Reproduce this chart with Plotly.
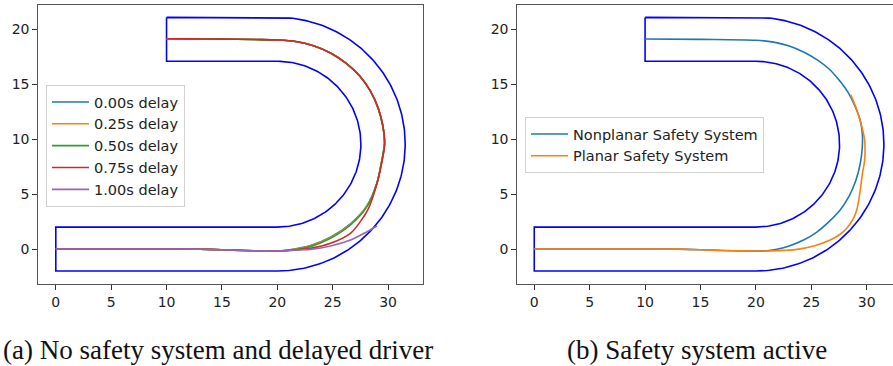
import numpy as np
import plotly.graph_objects as go

# ---------------- track geometry (parameters) ----------------
ARC_CX, ARC_CY = 20.0, 9.55
R_INNER, R_OUTER = 7.55, 11.55
BOTTOM_X0 = 0.0
TOP_X0 = 10.0

# ---------------- panel (a): delayed driver ----------------
delay_labels = ["0.00s delay", "0.25s delay", "0.50s delay", "0.75s delay", "1.00s delay"]

straight_x = [0, 5, 10, 13, 15, 17, 19, 20]
straight_y = [0, 0, 0, -0.01, -0.06, -0.13, -0.17, -0.18]

upper_x = [29.68, 29.53, 29.10, 28.40, 27.43, 26.20, 24.80, 23.27, 21.65, 20.0, 18.0, 15.0, 12.0, 10.0]
upper_y = [9.6, 11.23, 12.86, 14.40, 15.78, 16.94, 17.86, 18.52, 18.91, 19.04, 19.08, 19.12, 19.14, 19.15]

d000_x = straight_x + [21, 22, 23, 24.8, 26.6, 28.1, 29.0, 29.45] + upper_x
d000_y = straight_y + [-0.08, 0.10, 0.32, 1.08, 2.30, 3.95, 6.05, 8.13] + upper_y

d025_x = straight_x + [21, 22, 23, 24.8, 26.6, 28.1, 29.0, 29.45] + upper_x
d025_y = straight_y + [-0.10, 0.06, 0.28, 1.03, 2.25, 3.92, 6.02, 8.13] + upper_y

d050_x = straight_x + [21, 22, 23, 24.8, 26.6, 28.1, 29.0, 29.45] + upper_x
d050_y = straight_y + [-0.12, 0.02, 0.22, 0.97, 2.19, 3.87, 6.0, 8.13] + upper_y

d075_x = straight_x + [21, 22, 23, 24.8, 26.6, 27.5, 28.24, 28.84, 29.3, 29.7] + upper_x[1:]
d075_y = straight_y + [-0.13, -0.05, 0.06, 0.52, 1.43, 2.5, 3.71, 5.39, 7.2, 9.6] + upper_y[1:]

d100_x = straight_x + [21.2, 22, 23, 24.8, 26.6, 28.1, 29.0]
d100_y = straight_y + [-0.12, -0.08, -0.03, 0.27, 0.82, 1.58, 2.1]

# ---------------- panel (b): safety system ----------------
safety_labels = ["Nonplanar Safety System", "Planar Safety System"]

nonplanar_x = straight_x + [21.0, 22.0, 23.0, 24.3, 25.5, 26.6, 27.6, 28.4, 29.0, 29.4, 29.6,
                            29.6, 29.4, 28.9, 28.3, 27.5, 26.6, 25.5, 24.3, 23.0, 21.6,
                            20.0, 15.0, 10.0]
nonplanar_y = straight_y + [-0.15, 0.0, 0.28, 0.82, 1.55, 2.5, 3.56, 4.8, 6.2, 7.7, 9.3,
                            10.5, 11.78, 13.1, 14.3, 15.4, 16.4, 17.25, 17.95, 18.5, 18.85,
                            19.02, 19.1, 19.13]

planar_x = straight_x + [21.5, 22.5, 23.7, 25.3, 26.7, 27.6, 28.2, 28.8, 29.1, 29.3, 29.45,
                         29.6, 29.8, 29.85, 29.8, 29.55, 29.1, 28.55]
planar_y = straight_y + [-0.17, -0.12, -0.03, 0.3, 0.82, 1.35, 1.89, 2.8, 3.56, 4.6, 5.6,
                         6.8, 8.0, 9.04, 10.0, 11.17, 12.69, 14.06]

colors = ["#1f77b4", "#ff7f0e", "#2ca02c", "#d62728", "#9467bd"]
TRACK_COLOR = "#0000ff"

# ---------------- track outline ----------------
th_out = np.linspace(np.pi / 2, -np.pi / 2, 181)
th_in = np.linspace(-np.pi / 2, np.pi / 2, 181)
top_out = ARC_CY + R_OUTER
bot_out = ARC_CY - R_OUTER
bot_in = ARC_CY - R_INNER
top_in = ARC_CY + R_INNER
track_x = np.concatenate([
    [TOP_X0], ARC_CX + R_OUTER * np.cos(th_out), [BOTTOM_X0, BOTTOM_X0],
    ARC_CX + R_INNER * np.cos(th_in), [TOP_X0, TOP_X0]])
track_y = np.concatenate([
    [top_out], ARC_CY + R_OUTER * np.sin(th_out), [bot_out, bot_in],
    ARC_CY + R_INNER * np.sin(th_in), [top_in, top_out]])

fig = go.Figure()

for xa, ya in [("x", "y"), ("x2", "y2")]:
    fig.add_trace(go.Scatter(x=track_x, y=track_y, mode="lines", xaxis=xa, yaxis=ya,
                             line=dict(color=TRACK_COLOR, width=1.6), showlegend=False,
                             hoverinfo="skip"))

a_series = [(d000_x, d000_y), (d025_x, d025_y), (d050_x, d050_y), (d075_x, d075_y), (d100_x, d100_y)]
for i, (sx, sy) in enumerate(a_series):
    fig.add_trace(go.Scatter(x=sx, y=sy, mode="lines", name=delay_labels[i],
                             xaxis="x", yaxis="y", legend="legend",
                             line=dict(color=colors[i], width=1.6, shape="spline", smoothing=0.9)))

b_series = [(nonplanar_x, nonplanar_y), (planar_x, planar_y)]
for i, (sx, sy) in enumerate(b_series):
    fig.add_trace(go.Scatter(x=sx, y=sy, mode="lines", name=safety_labels[i],
                             xaxis="x2", yaxis="y2", legend="legend2",
                             line=dict(color=colors[i], width=1.6, shape="spline", smoothing=0.9)))

tickfont = dict(family="DejaVu Sans", size=14, color="#222")
common_x = dict(tickmode="array", tickvals=[0, 5, 10, 15, 20, 25, 30], ticks="outside",
                ticklen=5, tickwidth=1, tickcolor="#333", showgrid=False, zeroline=False,
                showline=True, linecolor="#555", linewidth=1, tickfont=tickfont)
common_y = dict(tickmode="array", tickvals=[0, 5, 10, 15, 20], ticks="outside",
                ticklen=5, tickwidth=1, tickcolor="#333", showgrid=False, zeroline=False,
                showline=True, linecolor="#555", linewidth=1, tickfont=tickfont)

W, H = 893, 366
legend_style = dict(font=dict(family="DejaVu Sans", size=14.5, color="#222"),
                    bgcolor="rgba(255,255,255,0.85)", bordercolor="#d0d0d0", borderwidth=1,
                    xanchor="left", yanchor="top", itemwidth=37)

fig.update_layout(
    width=W, height=H, margin=dict(l=0, r=0, t=0, b=0),
    paper_bgcolor="white", plot_bgcolor="white",
    xaxis=dict(domain=[38.3 / W, 422.7 / W], range=[-1.58, 33.13], anchor="y", mirror=True, **common_x),
    yaxis=dict(domain=[(H - 283.7) / H, (H - 4.7) / H], range=[-3.155, 22.255], anchor="x", mirror=True, **common_y),
    xaxis2=dict(domain=[517.3 / W, 1.0], range=[-1.53, 32.37], anchor="y2", mirror=True, **common_x),
    yaxis2=dict(domain=[(H - 283.7) / H, (H - 4.7) / H], range=[-3.155, 22.255], anchor="x2", mirror=False, **common_y),
    legend=dict(x=46 / W, y=1 - 85 / H, **legend_style),
    legend2=dict(x=525 / W, y=1 - 117 / H, **legend_style),
    showlegend=True,
    annotations=[
        dict(text="(a) No safety system and delayed driver", x=217.5 / W, y=1 - 349.5 / H,
             xref="paper", yref="paper", xanchor="center", yanchor="middle", showarrow=False,
             font=dict(family="Liberation Serif", size=27, color="#111")),
        dict(text="(b) Safety system active", x=696.5 / W, y=1 - 349.5 / H,
             xref="paper", yref="paper", xanchor="center", yanchor="middle", showarrow=False,
             font=dict(family="Liberation Serif", size=27, color="#111")),
    ],
)

fig.write_html("out.html", config={"displayModeBar": False},
               post_script="document.body.style.margin='0';document.body.style.overflow='hidden';")
